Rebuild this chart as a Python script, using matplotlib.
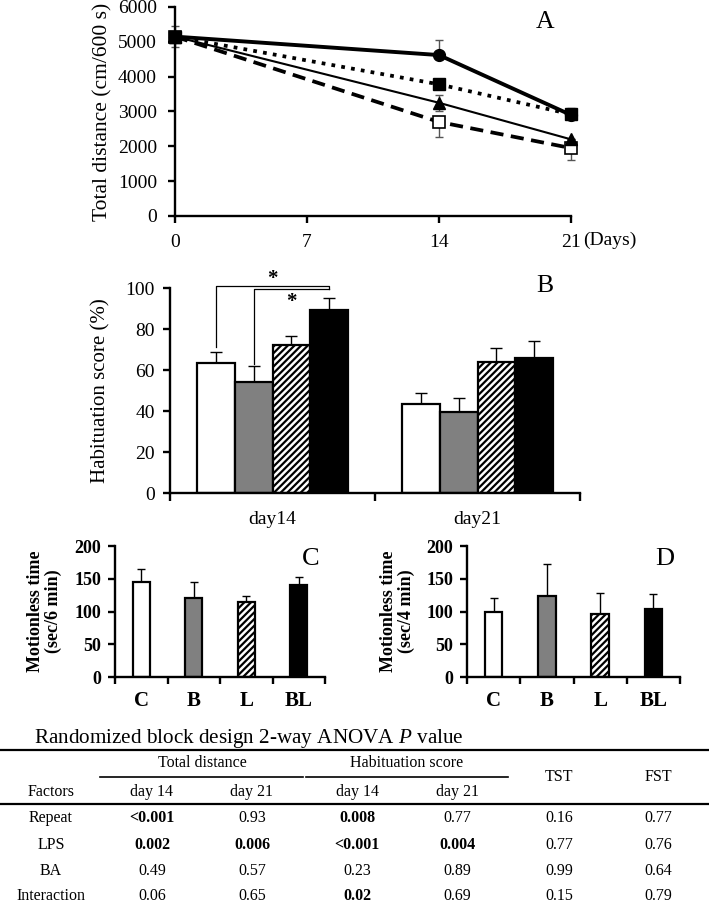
"""Open field, habituation, TST/FST panels plus the 2-way ANOVA P value table."""

import matplotlib as mpl
import matplotlib.pyplot as plt
from matplotlib.lines import Line2D
import numpy as np


# panel A: total distance over days (four groups, no legend in the figure)
DAYS = [0, 14, 21]
DIST_CIRCLE = [5150, 4620, 2900]
DIST_CIRCLE_UP = [0, 440, 0]
DIST_SQUARE = [5150, 3780, 2920]
DIST_SQUARE_UP = [300, 0, 190]
DIST_SQUARE_DN = [300, 0, 0]
DIST_TRIANGLE = [5150, 3250, 2200]
DIST_TRIANGLE_ERR = [0, 230, 0]
DIST_OPEN = [5150, 2700, 1950]
DIST_OPEN_DN = [0, 420, 340]

# panel B: habituation score
HAB_DAYS = ["day14", "day21"]
HAB_D14 = [63.5, 54.0, 72.0, 89.5]
HAB_D14_ERR = [5.5, 8.0, 4.5, 5.5]
HAB_D21 = [43.5, 39.5, 64.0, 66.0]
HAB_D21_ERR = [5.5, 7.0, 6.5, 8.0]

# panels C and D: motionless time
GROUPS = ["C", "B", "L", "BL"]
TST_MEAN = [145, 120, 115, 140]
TST_ERR = [20, 25, 8, 13]
FST_MEAN = [99, 124, 96, 104]
FST_ERR = [22, 49, 33, 23]

# ANOVA table
TABLE_TITLE = "Randomized block design 2-way ANOVA $\\mathit{P}$ value"
FACTORS = ["Repeat", "LPS", "BA", "Interaction"]
COL_HEADS = ["day 14", "day 21", "day 14", "day 21"]
P_VALUES = [
    ["<0.001", "0.93", "0.008", "0.77", "0.16", "0.77"],
    ["0.002", "0.006", "<0.001", "0.004", "0.77", "0.76"],
    ["0.49", "0.57", "0.23", "0.89", "0.99", "0.64"],
    ["0.06", "0.65", "0.02", "0.69", "0.15", "0.79"],
]
P_BOLD = [
    [True, False, True, False, False, False],
    [True, True, True, True, False, False],
    [False, False, False, False, False, False],
    [False, False, True, False, False, False],
]

FILLS = ["white", "#808080", "white", "black"]
HATCHES = [None, None, "/////", None]

W, H = 709, 905


def px_axes(fig, left, top, right, bottom):
    return fig.add_axes([left / W, 1 - bottom / H, (right - left) / W, (bottom - top) / H])


def style(ax, lw=1.7):
    for side in ["top", "right"]:
        ax.spines[side].set_visible(False)
    for side in ["left", "bottom"]:
        ax.spines[side].set_linewidth(lw)
    ax.tick_params(direction="out", width=lw, length=5)


def main() -> None:
    mpl.rcParams.update({
        "font.family": ["Liberation Serif", "DejaVu Serif"],
        "mathtext.fontset": "custom",
        "mathtext.it": "Liberation Serif:italic",
        "mathtext.rm": "Liberation Serif",
        "hatch.linewidth": 1.6,
    })
    fig = plt.figure(figsize=(W / 100, H / 100), dpi=100)

    # ---- A ----
    ax_a = px_axes(fig, 175, 7, 571, 216)
    style(ax_a)
    ax_a.errorbar(DAYS, DIST_SQUARE, yerr=[DIST_SQUARE_DN, DIST_SQUARE_UP], fmt="none",
                  ecolor="#555555", elinewidth=1, capsize=3, clip_on=False)
    ax_a.errorbar(DAYS, DIST_CIRCLE, yerr=[[0] * 3, DIST_CIRCLE_UP], fmt="none",
                  ecolor="#555555", elinewidth=1, capsize=3, clip_on=False)
    ax_a.errorbar(DAYS, DIST_TRIANGLE, yerr=DIST_TRIANGLE_ERR, fmt="none",
                  ecolor="#555555", elinewidth=1, capsize=3, clip_on=False)
    ax_a.errorbar(DAYS, DIST_OPEN, yerr=[DIST_OPEN_DN, [0] * 3], fmt="none",
                  ecolor="#555555", elinewidth=1, capsize=3, clip_on=False)
    ax_a.plot(DAYS, DIST_OPEN, color="black", lw=2.7, dashes=(3.5, 2), marker="s",
              ms=8, mfc="white", mec="black", mew=1.2, clip_on=False, zorder=3)
    ax_a.plot(DAYS, DIST_TRIANGLE, color="black", lw=1.5, marker="^", ms=8.5,
              clip_on=False, zorder=4)
    ax_a.plot(DAYS, DIST_CIRCLE, color="black", lw=2.8, marker="o", ms=8.5,
              clip_on=False, zorder=5)
    ax_a.plot(DAYS, DIST_SQUARE, color="black", lw=2.7, linestyle=":", marker="s",
              ms=8.5, clip_on=False, zorder=6)
    ax_a.set_xlim(0, 21)
    ax_a.set_ylim(0, 6000)
    ax_a.set_xticks([0, 7, 14, 21])
    ax_a.set_yticks(np.arange(0, 6001, 1000))
    ax_a.tick_params(labelsize=14, pad=8)
    ax_a.set_ylabel("Total distance (cm/600 s)", fontsize=15.5)
    ax_a.yaxis.set_label_coords(-0.158, 0.5)
    ax_a.text(1.03, -0.115, "(Days)", transform=ax_a.transAxes, fontsize=14,
              ha="left", va="center")
    ax_a.text(0.935, 0.93, "A", transform=ax_a.transAxes, fontsize=18.5,
              ha="center", va="center")

    # ---- B ----
    ax_b = px_axes(fig, 170, 288, 580, 493)
    style(ax_b)
    width = 0.185
    x = np.arange(len(HAB_DAYS))
    means = np.array([HAB_D14, HAB_D21])
    errs = np.array([HAB_D14_ERR, HAB_D21_ERR])
    for i in range(len(GROUPS)):
        pos = x + (i - 1.5) * width
        ax_b.bar(pos, means[:, i], width=width, color=FILLS[i], edgecolor="black",
                 linewidth=1.6, hatch=HATCHES[i], zorder=2)
        ax_b.errorbar(pos, means[:, i], yerr=[np.zeros(2), errs[:, i]], fmt="none",
                      ecolor="black", elinewidth=1, capsize=4, zorder=1)
    ax_b.set_xlim(-0.5, 1.5)
    ax_b.set_ylim(0, 100)
    ax_b.set_yticks(np.arange(0, 101, 20))
    ax_b.set_xticks(x, HAB_DAYS)
    ax_b.set_xticks([-0.5, 0.5, 1.5], minor=True)
    ax_b.tick_params(axis="x", which="major", length=0, labelsize=14, pad=13)
    ax_b.tick_params(axis="x", which="minor", length=6, width=1.7)
    ax_b.tick_params(axis="y", labelsize=14, pad=6)
    ax_b.set_ylabel("Habituation score (%)", fontsize=15)
    ax_b.yaxis.set_label_coords(-0.146, 0.5)
    ax_b.text(0.915, 1.01, "B", transform=ax_b.transAxes, fontsize=18.5,
              ha="center", va="center")
    # significance brackets (BL vs C, BL vs B on day14)
    xc, xb, xbl = -1.5 * width, -0.5 * width, 1.5 * width
    ax_b.plot([xc, xc, xbl, xbl], [71, 101, 101, 99.5], color="black", lw=0.9,
              clip_on=False)
    ax_b.plot([xb, xb, xbl], [63, 99.5, 99.5], color="black", lw=0.9, clip_on=False)
    ax_b.text((xc + xbl) / 2, 104.5, "*", fontsize=15, fontweight="bold",
              ha="center", va="center")
    ax_b.text((xb + xbl) / 2, 93, "*", fontsize=15, fontweight="bold",
              ha="center", va="center")

    # ---- C and D ----
    for box, mean, err, unit, letter, lab_x in [
        ((115, 546, 325, 677), TST_MEAN, TST_ERR, "(sec/6 min)", "C", -0.252),
        ((467, 546, 680, 677), FST_MEAN, FST_ERR, "(sec/4 min)", "D", -0.244),
    ]:
        ax = px_axes(fig, *box)
        style(ax)
        gx = np.arange(len(GROUPS))
        ax.bar(gx, mean, width=0.33, color=FILLS, edgecolor="black", linewidth=1.6,
               hatch=HATCHES, zorder=2)
        ax.errorbar(gx, mean, yerr=[np.zeros(len(gx)), err], fmt="none",
                    ecolor="black", elinewidth=1, capsize=3, zorder=1)
        ax.set_xlim(-0.5, 3.5)
        ax.set_ylim(0, 200)
        ax.set_yticks(np.arange(0, 201, 50))
        ax.set_xticks(gx, GROUPS)
        ax.set_xticks(np.arange(-0.5, 3.6, 1), minor=True)
        ax.tick_params(axis="x", which="major", length=0, labelsize=15, pad=10)
        ax.tick_params(axis="x", which="minor", length=5, width=1.7)
        ax.tick_params(axis="y", labelsize=13, pad=5)
        for lab in ax.get_xticklabels() + ax.get_yticklabels():
            lab.set_fontweight("bold")
        ax.set_ylabel("Motionless time\n" + unit, fontsize=13, fontweight="bold",
                      linespacing=1.05)
        ax.yaxis.set_label_coords(lab_x, 0.5)
        ax.text(0.93, 0.9, letter, transform=ax.transAxes, fontsize=19,
                ha="center", va="center")

    # ---- table ----
    def fx(px):
        return px / W

    def fy(py):
        return 1 - py / H

    fig.text(fx(34), fy(738), TABLE_TITLE, fontsize=15.2, ha="left", va="center")
    fig.add_artist(Line2D([0, 1], [fy(750), fy(750)], color="black", lw=1.6))
    fig.add_artist(Line2D([0, 1], [fy(804), fy(804)], color="black", lw=1.6))
    fig.add_artist(Line2D([fx(100), fx(303)], [fy(777), fy(777)], color="black", lw=1.2))
    fig.add_artist(Line2D([fx(306), fx(508)], [fy(777), fy(777)], color="black", lw=1.2))
    size = 11.5
    fig.text(fx(202), fy(763), "Total distance", fontsize=size, ha="center", va="center")
    fig.text(fx(407), fy(763), "Habituation score", fontsize=size, ha="center", va="center")
    fig.text(fx(559), fy(777), "TST", fontsize=size, ha="center", va="center")
    fig.text(fx(658), fy(777), "FST", fontsize=size, ha="center", va="center")
    fig.text(fx(51), fy(792), "Factors", fontsize=size, ha="center", va="center")
    col_x = [152, 252, 357, 457, 559, 658]
    for cx, head in zip(col_x, COL_HEADS):
        fig.text(fx(cx), fy(792), head, fontsize=size, ha="center", va="center")
    row_y = [818, 845, 871, 896]
    for ry, factor, values, bolds in zip(row_y, FACTORS, P_VALUES, P_BOLD):
        fig.text(fx(51), fy(ry), factor, fontsize=size, ha="center", va="center")
        for cx, val, b in zip(col_x, values, bolds):
            fig.text(fx(cx), fy(ry), val, fontsize=size, ha="center", va="center",
                     fontweight="bold" if b else "normal")

    fig.savefig("out.png", dpi=100)
    plt.close(fig)


if __name__ == "__main__":
    main()
